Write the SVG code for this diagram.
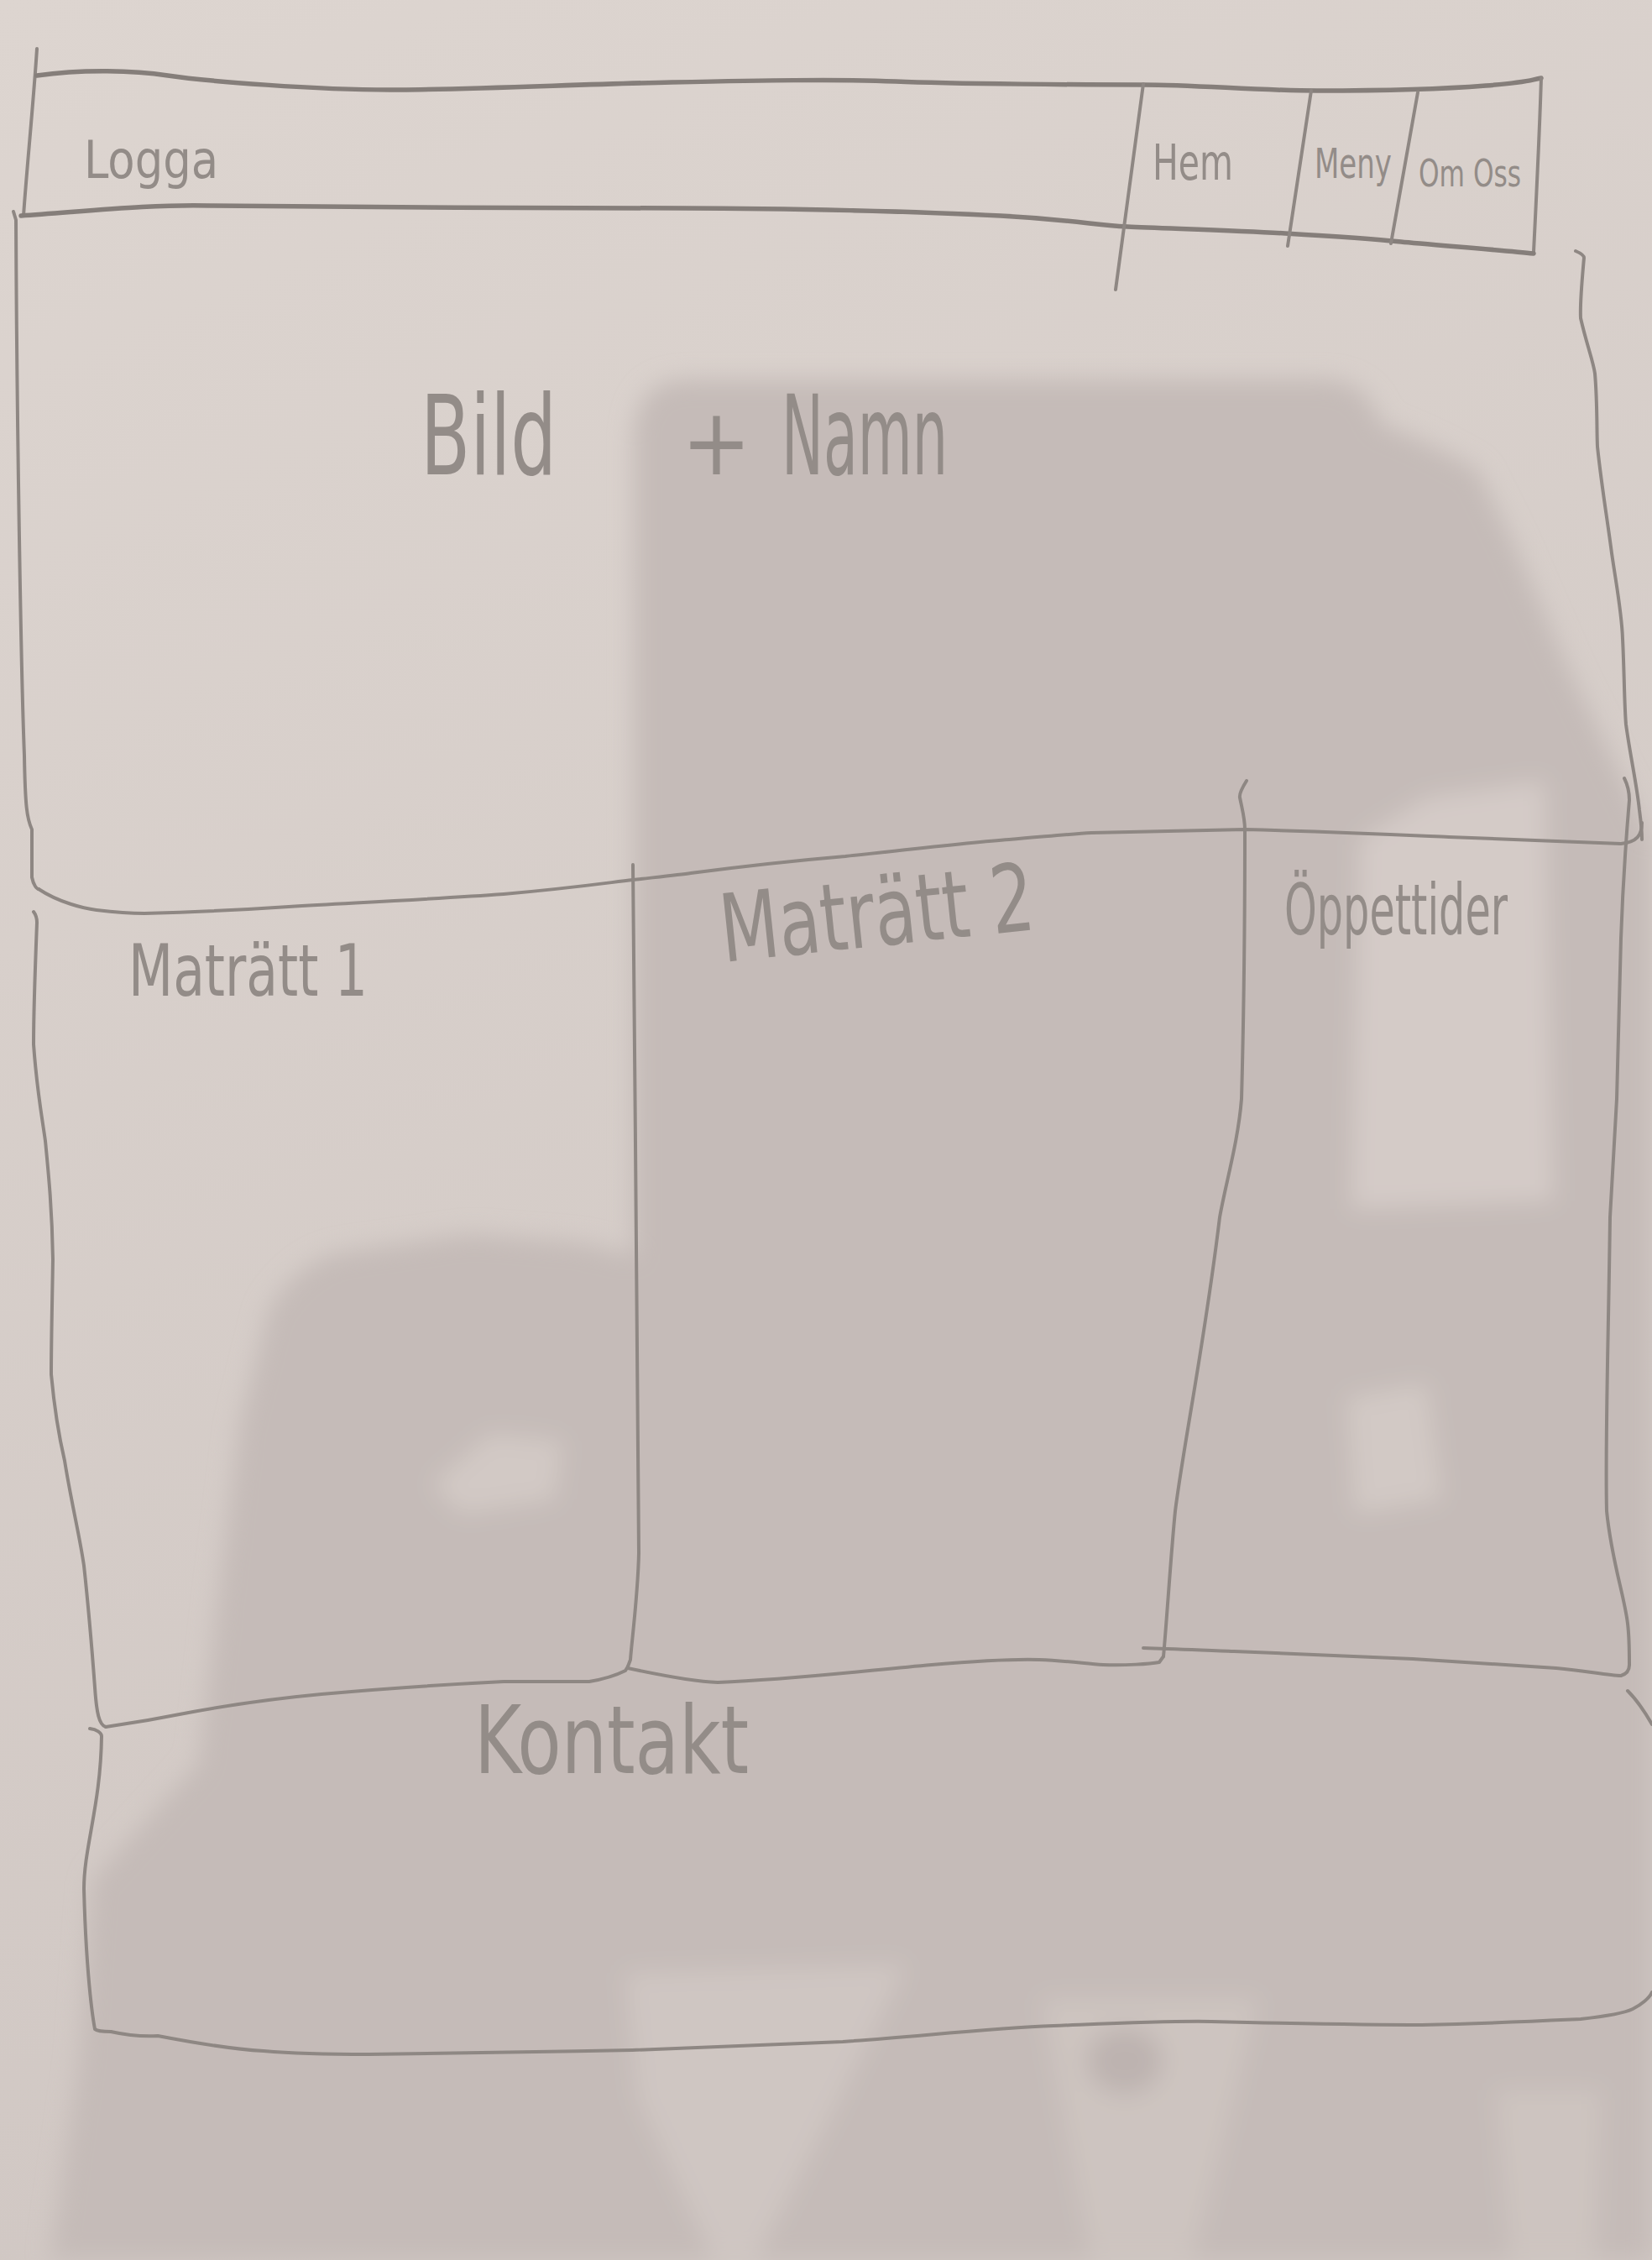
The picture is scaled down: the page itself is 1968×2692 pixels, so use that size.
<svg xmlns="http://www.w3.org/2000/svg" width="1968" height="2692" viewBox="0 0 1968 2692">
  <defs>
    <linearGradient id="paper" x1="0" y1="0" x2="0.3" y2="1">
      <stop offset="0" stop-color="#ddd5d0"/>
      <stop offset="1" stop-color="#d0c7c3"/>
    </linearGradient>
    <filter id="soft" x="-10%" y="-10%" width="120%" height="120%">
      <feGaussianBlur stdDeviation="14"/>
    </filter>
    <style>
      .pen { fill: none; stroke: #8e8783; stroke-width: 4; stroke-linecap: round; stroke-linejoin: round; }
      .bold { stroke: #857e7a; stroke-width: 5.5; }
      .hand { font-family: "Liberation Sans Narrow", "DejaVu Sans Condensed", "Liberation Sans", sans-serif; fill: #938c88; }
    </style>
  </defs>

  <!-- paper and cast shadows -->
  <rect x="0" y="0" width="1968" height="2692" fill="url(#paper)"/>
  <g id="shadows" filter="url(#soft)">
    <path fill="#c5bbb8" d="M755,520 Q757,452 820,452 L1580,452 Q1630,455 1645,505 Q1700,525 1760,560 L1800,640 L1870,800 L1968,1000 L1968,2692 L60,2692 L95,2450 L110,2240 L237,2100 L260,1900 L285,1700 L320,1560 Q360,1495 420,1490 L560,1470 L690,1480 L755,1495 Z"/>
    <path fill="#d4cbc7" d="M1620,1000 L1700,950 L1840,930 L1850,1430 L1610,1440 Z"/>
    <path fill="#d2c9c5" d="M515,1768 L584,1708 L670,1717 L661,1786 L549,1803 Z"/>
    <path fill="#d2c9c5" d="M1605,1665 L1700,1648 L1717,1786 L1614,1803 Z"/>
    <path fill="#cfc6c2" d="M745,2350 L1080,2340 L1000,2500 L900,2692 L850,2692 L760,2500 Z"/>
    <path fill="#cdc4c0" d="M1240,2380 L1500,2380 L1420,2692 L1300,2692 Z"/>
    <path fill="#cdc4c0" d="M1782,2490 L1908,2490 L1900,2692 L1800,2692 Z"/>
    <ellipse fill="#bdb3b0" cx="1340" cy="2455" rx="45" ry="40"/>
  </g>

  <!-- header bar -->
  <g id="header">
    <path class="pen" d="M44,58 C40,120 32,200 28,257"/>
    <path class="pen bold" d="M44,90 C100,82 160,84 200,90 S380,108 477,107 S700,100 800,98 S1000,94 1067,97 S1300,101 1362,101 S1500,108 1569,108 S1720,106 1770,102 S1820,96 1836,93"/>
    <path class="pen" d="M1836,93 C1834,160 1830,240 1827,300"/>
    <path class="pen bold" d="M25,257 C100,252 180,243 251,245 S700,248 816,248 S1100,252 1192,257 S1300,268 1343,270 S1480,275 1531,278 S1640,285 1669,288 S1790,298 1827,302"/>
    <text class="hand" x="100" y="212" font-size="62" textLength="160" lengthAdjust="spacingAndGlyphs">Logga</text>
  </g>
  <g id="nav-hem">
    <path class="pen" d="M1362,100 L1329,345"/>
    <text class="hand" x="1373" y="214" font-size="58" textLength="96" lengthAdjust="spacingAndGlyphs">Hem</text>
  </g>
  <g id="nav-meny">
    <path class="pen" d="M1562,108 L1534,293"/>
    <text class="hand" x="1566" y="212" font-size="50" textLength="92" lengthAdjust="spacingAndGlyphs">Meny</text>
  </g>
  <g id="nav-om-oss">
    <path class="pen" d="M1689,110 L1657,290"/>
    <text class="hand" x="1690" y="222" font-size="44" textLength="122" lengthAdjust="spacingAndGlyphs">Om Oss</text>
  </g>

  <!-- hero block -->
  <g id="hero">
    <path class="pen" d="M16,252 L19,262 C20,500 25,800 29,900 C30,960 32,975 38,988 L38,1045 C40,1055 44,1059 46,1059"/>
    <path class="pen" d="M1877,299 C1884,302 1887,305 1887,307 C1885,330 1882,360 1883,379 C1890,410 1898,430 1900,445 C1903,480 1902,510 1903,532 C1908,580 1915,620 1920,659 C1926,700 1932,730 1933,761 C1935,800 1935,840 1937,863 C1942,900 1950,935 1953,965 C1955,980 1956,990 1956,1000"/>
    <text class="hand" y="565" font-size="132"><tspan x="501" textLength="162" lengthAdjust="spacingAndGlyphs">Bild</tspan><tspan x="812" font-size="110">+</tspan><tspan x="931" textLength="198" lengthAdjust="spacingAndGlyphs">Namn</tspan></text>
  </g>

  <!-- row separator between hero and the three columns -->
  <g id="connectors">
    <path class="pen" d="M46,1059 C70,1075 100,1082 115,1084 C140,1087 160,1088 172,1088 C250,1086 300,1083 344,1080 C450,1074 530,1070 600,1065 C680,1058 720,1052 754,1048 C790,1044 810,1042 823,1040 C900,1030 960,1024 1007,1020 C1100,1010 1160,1003 1202,1000 C1250,996 1280,993 1300,992 L1483,988 C1600,991 1680,995 1726,997 C1820,1001 1890,1004 1931,1005 C1950,1003 1956,995 1956,980"/>
  </g>

  <g id="dish-1">
    <path class="pen" d="M40,1086 C43,1090 44,1095 44,1099 C42,1150 40,1200 40,1244 C44,1300 50,1330 54,1359 C58,1400 62,1440 63,1500 C62,1560 61,1600 61,1637 C65,1680 70,1710 77,1740 C85,1790 95,1830 100,1865 C106,1920 110,1970 113,2010 C115,2040 118,2055 126,2057"/>
    <path class="pen" d="M126,2057 C160,2052 200,2045 230,2039 C290,2028 340,2022 383,2018 C460,2011 540,2006 600,2003 L702,2003 C720,2000 735,1995 745,1990 L748,1985"/>
    <path class="pen" d="M754,1030 C756,1300 760,1600 761,1850 C760,1900 752,1960 751,1977 L748,1985"/>
    <text class="hand" x="153" y="1186" font-size="86" textLength="285" lengthAdjust="spacingAndGlyphs">Maträtt 1</text>
  </g>

  <g id="dish-2">
    <path class="pen" d="M748,1987 C790,1996 830,2003 855,2004 C950,2000 1030,1990 1110,1983 C1170,1978 1210,1976 1238,1977 C1270,1978 1295,1982 1314,1983 C1340,1984 1370,1982 1381,1980 L1386,1973"/>
    <path class="pen" d="M1485,930 C1480,938 1476,945 1477,950 C1480,965 1483,975 1483,988 C1483,1100 1482,1200 1479,1309 C1475,1360 1460,1410 1453,1450 C1435,1600 1410,1720 1400,1800 C1395,1850 1390,1930 1386,1973"/>
    <text class="hand" x="862" y="1146" font-size="112" textLength="375" lengthAdjust="spacingAndGlyphs" transform="rotate(-6 862 1146)">Maträtt 2</text>
  </g>

  <g id="opening-hours">
    <path class="pen" d="M1362,1963 C1400,1964 1440,1966 1470,1967 C1550,1970 1620,1973 1683,1976 C1750,1980 1810,1984 1854,1987 C1890,1990 1915,1996 1931,1996 C1938,1994 1941,1990 1941,1983"/>
    <path class="pen" d="M1935,927 C1939,935 1941,945 1941,953 C1937,1000 1933,1060 1931,1118 C1929,1180 1928,1250 1926,1309 C1923,1360 1920,1410 1918,1450 C1916,1600 1912,1720 1914,1800 C1920,1860 1935,1900 1939,1934 C1941,1950 1941,1970 1941,1983"/>
    <text class="hand" x="1530" y="1113" font-size="84" textLength="266" lengthAdjust="spacingAndGlyphs">Öppettider</text>
  </g>

  <g id="contact">
    <path class="pen" d="M107,2059 C115,2060 121,2064 121,2068 C120,2150 100,2200 100,2250 C102,2330 108,2390 113,2417 C116,2420 125,2420 132,2420"/>
    <path class="pen" d="M132,2420 C150,2424 170,2426 188,2425 C240,2435 280,2441 314,2443 C360,2447 400,2447 439,2447 C550,2446 650,2444 753,2442 C850,2438 930,2435 1004,2432 C1100,2425 1180,2416 1255,2413 C1330,2410 1390,2407 1443,2408 C1530,2410 1620,2412 1694,2412 C1780,2410 1840,2407 1883,2405 C1910,2402 1935,2398 1945,2393 C1955,2388 1965,2380 1968,2373"/>
    <path class="pen" d="M1939,2014 C1950,2025 1960,2040 1968,2054"/>
    <text class="hand" x="565" y="2112" font-size="112" textLength="327" lengthAdjust="spacingAndGlyphs">Kontakt</text>
  </g>
</svg>
